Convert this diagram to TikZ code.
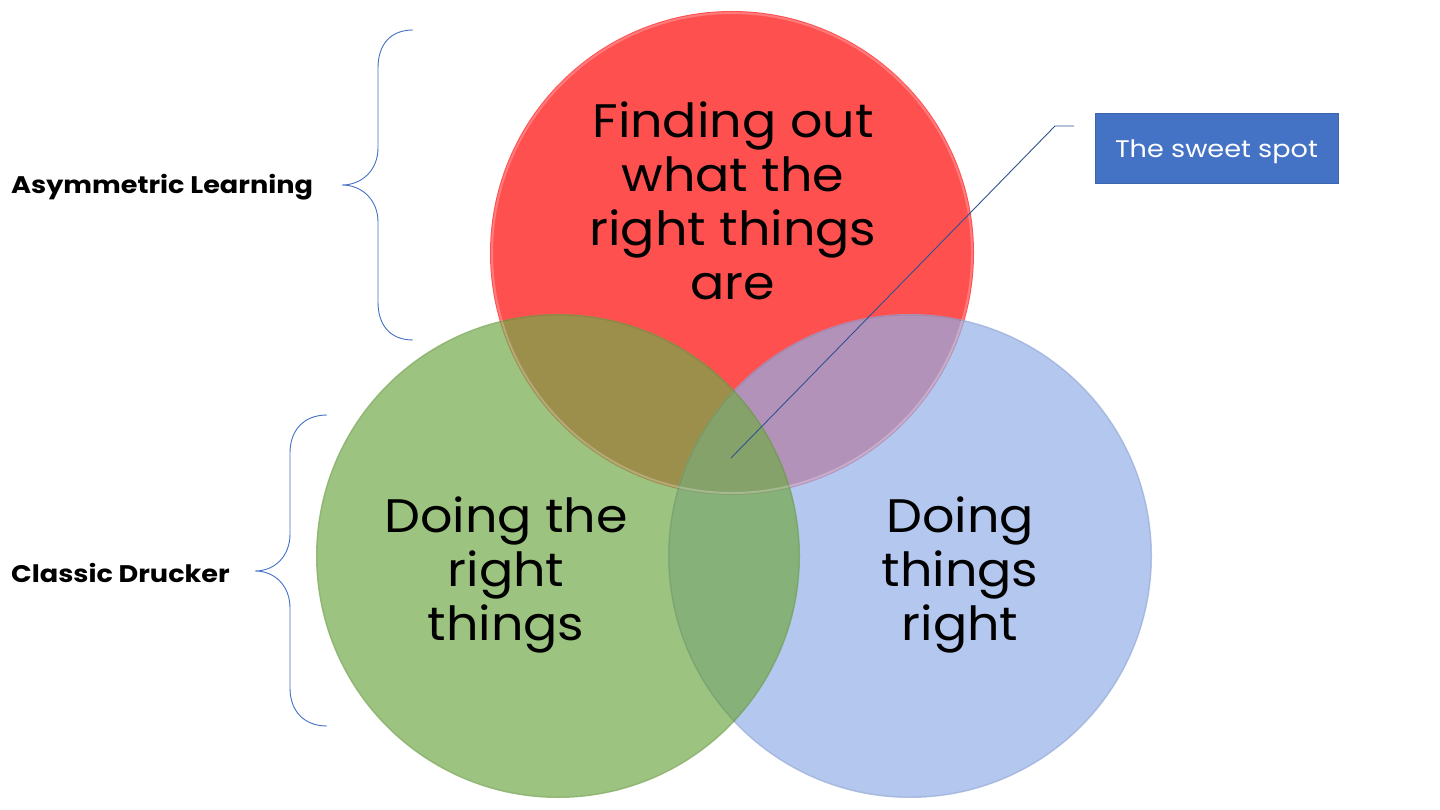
\documentclass[tikz,border=0pt]{standalone}
\usepackage{fontspec}
\setmainfont{Poppins}
\newfontfamily\bigf{Poppins}[FakeStretch=1.08]
\newfontfamily\labf{Poppins}[FakeStretch=1.13]
\definecolor{cred}{RGB}{255,80,80}
\definecolor{cgreen}{RGB}{115,169,74}
\definecolor{cblue}{RGB}{148,175,231}
\definecolor{bracec}{RGB}{68,114,196}
\definecolor{boxc}{RGB}{68,114,196}
\definecolor{boxb}{RGB}{60,100,175}
\definecolor{linec}{RGB}{47,82,143}
\tikzset{
  vennc/.style={circle, minimum size=484pt, inner sep=0pt},
  bigtext/.style={align=center, font=\bigf\fontsize{47}{54}\selectfont, text=black},
  sidelabel/.style={anchor=west, font=\labf\bfseries\fontsize{24}{28}\selectfont, text=black, inner sep=0pt},
  bracestyle/.style={draw=bracec, line width=0.9pt},
  sweetbox/.style={draw=boxb, fill=boxc, text=white, minimum width=243pt, minimum height=70pt, font=\labf\fontsize{24}{28}\selectfont, inner sep=0pt, text height=24pt, text depth=4pt},
  leader/.style={draw=linec, line width=0.9pt}
}
\begin{document}
\begin{tikzpicture}[x=1pt,y=-1pt]
\useasboundingbox (0,0) rectangle (1440,810);
% circles
\node[vennc, fill=cred] (red) at (732,253) {};
\node[vennc, fill=cblue, fill opacity=0.7] (blue) at (910,556) {};
\node[vennc, fill=cgreen, fill opacity=0.7] (green) at (558,556) {};
% soft rims
\draw[white, opacity=0.25, line width=2pt] (red.center) circle (240pt);
\draw[black, opacity=0.08, line width=1pt] (blue.center) circle (241pt);
\draw[black, opacity=0.08, line width=1pt] (green.center) circle (241pt);
% texts
\node[bigtext] (tred) at (733,201) {Finding out\\what the\\right things\\are};
\node[bigtext] (tgreen) at (506,575) {Doing the\\right\\things};
\node[bigtext] (tblue) at (960,575) {Doing\\things\\right};
% side labels
\node[sidelabel] (asym) at (11,187) {Asymmetric Learning};
\node[sidelabel] (classic) at (11,573) {Classic Drucker};
% braces
\coordinate (b1tip) at (342,185);
\coordinate (b2tip) at (255,571);
\draw[bracestyle] (413,30) .. controls (390,30) and (378,45) .. (378,68)
  -- (378,148) .. controls (378,170) and (362,185) .. (b1tip)
  .. controls (362,185) and (378,200) .. (378,222)
  -- (378,302) .. controls (378,325) and (390,340) .. (413,340);
\draw[bracestyle] (327,415) .. controls (304,415) and (290,430) .. (290,453)
  -- (290,534) .. controls (290,556) and (275,571) .. (b2tip)
  .. controls (275,571) and (290,586) .. (290,608)
  -- (290,688) .. controls (290,711) and (304,726) .. (327,726);
% sweet spot
\node[sweetbox] (sweet) at (1216.5,148) {The sweet spot};
\coordinate (spot) at (731,458);
\coordinate (bend) at (1055,126);
\coordinate (lend) at (1074,126);
\draw[leader] (spot) -- (bend) -- (lend);
\end{tikzpicture}
\end{document}
